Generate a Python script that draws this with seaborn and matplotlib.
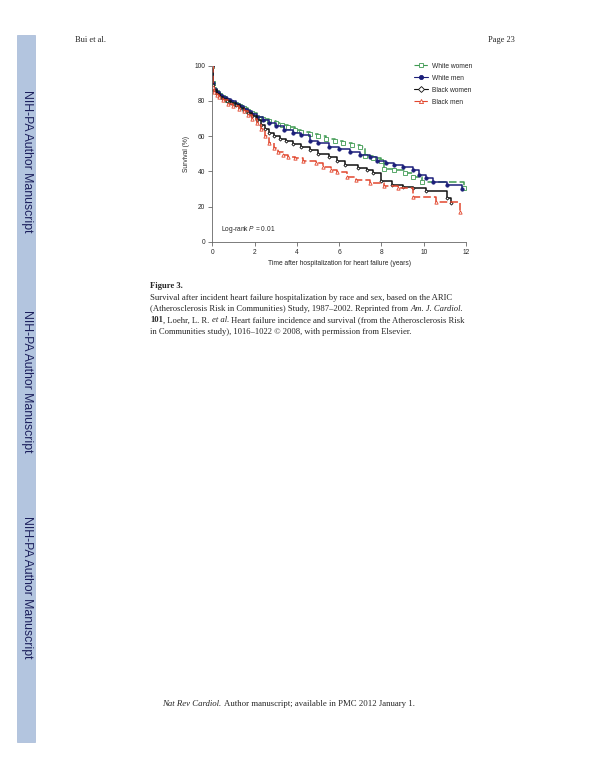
import matplotlib
matplotlib.use("Agg")
import matplotlib.pyplot as plt
from matplotlib.patches import Rectangle
from matplotlib.lines import Line2D
import seaborn as sns
import pandas as pd

W, H = 600, 776

# Kaplan-Meier step points (years, % surviving)
ww_t = [0, 0.02, 0.1, 0.2, 0.35, 0.5, 0.7, 0.9, 1.1, 1.3, 1.5, 1.7, 1.9, 2.1, 2.4, 2.7, 3.0, 3.3,
        3.6, 3.9, 4.2, 4.6, 5.0, 5.4, 5.8, 6.2, 6.6, 7.0, 7.2, 7.6, 8.0, 8.1, 8.6, 9.1, 9.5, 9.9, 11.9]
ww_s = [100, 90, 87, 85, 83.5, 82, 80.5, 79.5, 78, 77, 76, 74.5, 73, 71, 70, 68.6, 67.5, 66.5,
        65, 63.5, 62.5, 61, 60, 58.5, 57, 56, 55, 54, 48.5, 47.5, 46, 41.5, 40.5, 39, 37, 34, 30.5]

wm_t = [0, 0.02, 0.1, 0.2, 0.35, 0.5, 0.7, 0.9, 1.1, 1.3, 1.5, 1.7, 1.9, 2.1, 2.4, 2.7, 3.0, 3.4,
        3.8, 4.2, 4.6, 5.0, 5.5, 6.0, 6.5, 7.0, 7.45, 7.8, 8.2, 8.6, 9.0, 9.5, 9.8, 10.1, 10.45, 11.1, 11.8]
wm_s = [100, 90, 87, 85, 83.5, 82, 81, 80, 78.5, 77, 75.5, 74, 72.5, 71, 69, 67.3, 65.5, 63.5,
        62, 60.5, 57.5, 56, 54, 52.5, 51, 49.5, 48, 46, 44.5, 43.5, 42.5, 40.5, 38, 36, 34, 32, 29.8]

bw_t = [0, 0.02, 0.1, 0.2, 0.35, 0.5, 0.7, 0.9, 1.1, 1.3, 1.5, 1.7, 1.9, 2.1, 2.3, 2.5, 2.7, 2.9,
        3.2, 3.5, 3.8, 4.2, 4.6, 5.0, 5.5, 5.9, 6.3, 6.9, 7.3, 7.6, 8.0, 8.5, 9.0, 9.5, 10.1, 11.1, 11.3]
bw_s = [100, 89, 86, 84, 82.5, 81, 80, 79, 77.5, 76, 74.5, 73, 71.5, 69, 66.5, 64, 62, 60,
        58.5, 57, 55.5, 54, 52, 50, 48, 46, 43.6, 42, 40.5, 39, 34.5, 32.5, 31, 30.3, 29, 25, 22]

bm_t = [0, 0.02, 0.1, 0.2, 0.3, 0.5, 0.75, 1.0, 1.25, 1.5, 1.7, 1.9, 2.1, 2.3, 2.5, 2.7, 2.9,
        3.1, 3.35, 3.6, 3.9, 4.3, 4.9, 5.25, 5.6, 5.9, 6.35, 6.8, 7.45, 8.1, 8.8, 9.5, 10.6, 11.7]
bm_s = [100, 88, 85, 83.5, 82, 80.5, 78.5, 77, 75.5, 74, 72, 70, 67.5, 64, 60, 56, 53.5,
        51, 49.5, 48.3, 47.3, 46, 44.5, 42.5, 41, 39.8, 37, 35, 33.2, 31.5, 30.3, 25.5, 22.5, 17]

groups = ["White women", "White men", "Black women", "Black men"]
series = {"White women": (ww_t, ww_s), "White men": (wm_t, wm_s),
          "Black women": (bw_t, bw_s), "Black men": (bm_t, bm_s)}
colors = {"White women": "#3f9a52", "White men": "#1c1f7a",
          "Black women": "#111111", "Black men": "#e2472e"}
markers = {"White women": "s", "White men": "o", "Black women": "D", "Black men": "^"}
msize = {"White women": 2.4, "White men": 2.4, "Black women": 1.6, "Black men": 2.4}
mfc = {"White women": "white", "White men": "#1c1f7a", "Black women": "white", "Black men": "white"}
lstyles = {"White women": (0, (5, 2)), "White men": "-", "Black women": "-", "Black men": (0, (5, 2))}

SANS = ["Liberation Sans", "DejaVu Sans"]
SERIF = ["Liberation Serif", "DejaVu Serif"]

sns.set_style("white")
plt.rcParams["font.family"] = SANS
plt.rcParams["mathtext.fontset"] = "custom"
plt.rcParams["mathtext.it"] = "Liberation Sans:italic"
plt.rcParams["mathtext.rm"] = "Liberation Sans"


def fx(x):
    return x / W


def fy(y):
    return 1 - y / H


fig = plt.figure(figsize=(6, 7.76), dpi=100)

# chart
ax = fig.add_axes([fx(212.3), fy(241.7), (466 - 212.3) / W, (241.7 - 65.7) / H])
for g in groups:
    t, s = series[g]
    df = pd.DataFrame({"t": t, "s": s})
    sns.lineplot(data=df, x="t", y="s", ax=ax, drawstyle="steps-post", color=colors[g],
                 linestyle=lstyles[g], lw=1.1, marker=markers[g], markersize=msize[g],
                 markerfacecolor=mfc[g], markeredgecolor=colors[g], markeredgewidth=0.6)

ax.set_xlim(0, 12)
ax.set_ylim(0, 100)
ax.set_xticks(range(0, 13, 2))
ax.set_yticks(range(0, 101, 20))
for sp in ["top", "right"]:
    ax.spines[sp].set_visible(False)
for sp in ["left", "bottom"]:
    ax.spines[sp].set_color("#666666")
    ax.spines[sp].set_linewidth(0.6)
ax.tick_params(axis="both", length=3, width=0.6, color="#666666", labelsize=4.8, pad=2,
               bottom=True, left=True)
ax.set_xlabel("Time after hospitalization for heart failure (years)", fontsize=4.8, labelpad=3)
ax.set_ylabel("Survival (%)", fontsize=4.8, labelpad=3)
ax.text(0.42, 7.2, "Log-rank $P$ = 0.01", fontsize=4.8, va="center")

handles = [Line2D([], [], color=colors[g], linestyle=lstyles[g], lw=0.8, marker=markers[g],
                  markersize=3, markerfacecolor=mfc[g], markeredgecolor=colors[g], markeredgewidth=0.6)
           for g in groups]
fig.legend(handles, groups, loc="upper left", bbox_to_anchor=(fx(411), fy(60)), frameon=False,
           fontsize=4.8, handlelength=2.2, handletextpad=0.6, labelspacing=0.75, borderaxespad=0)

# NIH sidebar
fig.patches.append(Rectangle((fx(17), fy(742)), 18 / W, (742 - 35) / H,
                             transform=fig.transFigure, facecolor="#b3c5df", edgecolor="#a5b8d6", lw=0.5))
for yc in [161, 381, 587]:
    fig.text(fx(26.5), fy(yc), "NIH-PA Author Manuscript", rotation=-90, ha="center", va="center",
             fontsize=8.8, color="#1b1f5c", family=["Liberation Sans Narrow", "Liberation Sans"])

# header / footer
fig.text(fx(75), fy(40), "Bui et al.", fontsize=6, family=SERIF, va="center")
fig.text(fx(515), fy(40), "Page 23", fontsize=6, family=SERIF, va="center", ha="right")
t1 = fig.text(fx(162), fy(704), "Nat Rev Cardiol.", fontsize=6.3, family=SERIF, style="italic", va="center")
ax.annotate("Author manuscript; available in PMC 2012 January 1.", xy=(1, 0.5), xycoords=t1,
            xytext=(1.8, 0), textcoords="offset points",
            fontsize=6.3, family=SERIF, va="center", annotation_clip=False)

# caption
cap_fs = 6.25
fig.text(fx(150), fy(286), "Figure 3.", fontsize=cap_fs, family=SERIF, weight="bold", va="center")
fig.text(fx(150), fy(297.5), "Survival after incident heart failure hospitalization by race and sex, based on the ARIC",
         fontsize=cap_fs, family=SERIF, va="center")
p = fig.text(fx(150), fy(309), "(Atherosclerosis Risk in Communities) Study, 1987\u20132002. Reprinted from",
             fontsize=cap_fs, family=SERIF, va="center")
ax.annotate("Am. J. Cardiol.", xy=(1, 0.5), xycoords=p, xytext=(1.8, 0), textcoords="offset points",
            fontsize=cap_fs, family=SERIF, style="italic", va="center", annotation_clip=False)
p = fig.text(fx(150), fy(320.5), "101", fontsize=cap_fs, family=SERIF, weight="bold", va="center")
p = ax.annotate(", Loehr, L. R.", xy=(1, 0.5), xycoords=p, fontsize=cap_fs, family=SERIF,
                va="center", annotation_clip=False)
p = ax.annotate("et al.", xy=(1, 0.5), xycoords=p, xytext=(1.8, 0), textcoords="offset points",
                fontsize=cap_fs, family=SERIF, style="italic", va="center", annotation_clip=False)
ax.annotate("Heart failure incidence and survival (from the Atherosclerosis Risk", xy=(1, 0.5), xycoords=p,
            xytext=(1.8, 0), textcoords="offset points", fontsize=cap_fs, family=SERIF,
            va="center", annotation_clip=False)
fig.text(fx(150), fy(332), "in Communities study), 1016\u20131022 \u00a9 2008, with permission from Elsevier.",
         fontsize=cap_fs, family=SERIF, va="center")

fig.savefig("out.png", dpi=100)
